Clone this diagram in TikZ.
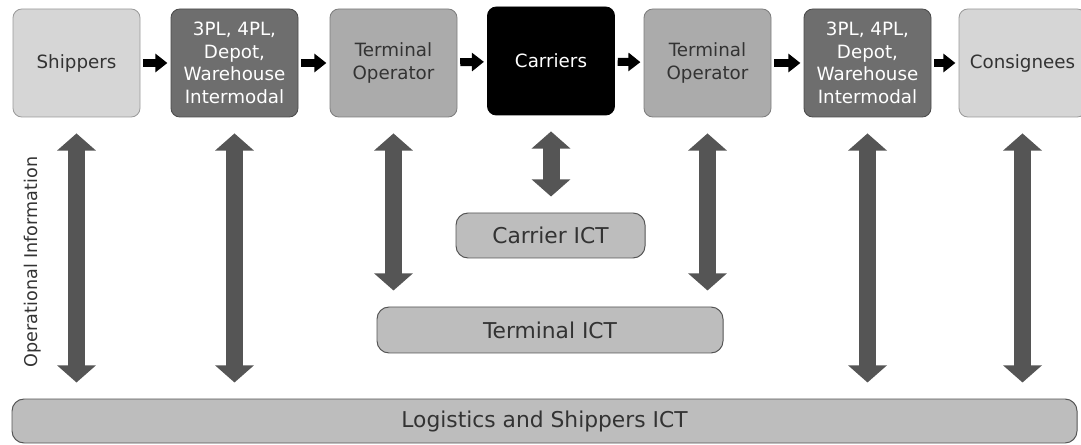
\documentclass[tikz,border=0pt]{standalone}
\usepackage{fontspec}
\setmainfont{DejaVu Sans}
\usetikzlibrary{arrows.meta}
\definecolor{boxlight}{HTML}{D6D6D6}
\definecolor{edgelight}{HTML}{9A9A9A}
\definecolor{boxdark}{HTML}{6E6E6E}
\definecolor{edgedark}{HTML}{4A4A4A}
\definecolor{boxmid}{HTML}{ABABAB}
\definecolor{edgemid}{HTML}{7D7D7D}
\definecolor{boxict}{HTML}{BDBDBD}
\definecolor{edgeict}{HTML}{555555}
\definecolor{arrgray}{HTML}{555555}
\definecolor{txtdark}{HTML}{333333}

\begin{document}
\begin{tikzpicture}[>={Triangle[width=0.45cm,length=0.3cm]}]
%===styles===
\tikzset{
 actor/.style={draw, rounded corners=0.22cm, minimum width=3.175cm, minimum height=2.7cm, align=center, inner sep=1pt, line width=0.6pt, font=\fontsize{13}{16}\selectfont},
 shipbox/.style={actor, fill=boxlight, draw=edgelight, text=txtdark},
 hubbox/.style={actor, fill=boxdark, draw=edgedark, text=white},
 termbox/.style={actor, fill=boxmid, draw=edgemid, text=txtdark},
 carrbox/.style={actor, fill=black, draw=black, text=white},
 ictbox/.style={draw=edgeict, fill=boxict, rounded corners=0.3cm, line width=0.7pt, text=txtdark, font=\fontsize{15.5}{18}\selectfont},
 flow/.style={->, line width=0.2cm, black, shorten <=0.07cm, shorten >=0.08cm},
 info/.style={{Triangle[width=0.95cm,length=0.43cm]}-{Triangle[width=0.95cm,length=0.43cm]}, line width=0.425cm, arrgray, shorten <=0.4cm, shorten >=0.4cm}
}
\useasboundingbox (0,0) rectangle (27.025,-11.125);
%===chain===
\node[shipbox] (ship) at (1.9125,-1.575) {Shippers};
\node[hubbox] (hub1) at (5.8625,-1.575) {3PL, 4PL,\\Depot,\\Warehouse\\Intermodal};
\node[termbox] (term1) at (9.8375,-1.575) {Terminal\\Operator};
\node[carrbox] (carr) at (13.775,-1.525) {Carriers};
\node[termbox] (term2) at (17.6875,-1.575) {Terminal\\Operator};
\node[hubbox] (hub2) at (21.6875,-1.575) {3PL, 4PL,\\Depot,\\Warehouse\\Intermodal};
\node[shipbox] (cons) at (25.5625,-1.575) {Consignees};
%===ICT layers===
\node[ictbox, minimum width=4.725cm, minimum height=1.125cm] (cict) at (13.7625,-5.8875) {Carrier ICT};
\node[ictbox, minimum width=8.65cm, minimum height=1.15cm] (tict) at (13.75,-8.25) {Terminal ICT};
\node[ictbox, minimum width=26.625cm, minimum height=1.1cm] (logi) at (13.6125,-10.525) {Logistics and Shippers ICT};
%===side label===
\node[rotate=90, text=txtdark, font=\fontsize{12.5}{15}\selectfont] (opinfo) at (0.825,-6.55) {Operational Information};
%===flow arrows===
\draw[flow] (ship) -- (hub1);
\draw[flow] (hub1) -- (term1);
\draw[flow] (term1) -- (carr);
\draw[flow] (carr) -- (term2);
\draw[flow] (term2) -- (hub2);
\draw[flow] (hub2) -- (cons);
%===information arrows===
\draw[info] (ship.south) -- (ship.south |- logi.north);
\draw[info] (hub1.south) -- (hub1.south |- logi.north);
\draw[info] (term1.south) -- (term1.south |- tict.north);
\draw[info] (carr.south) -- (carr.south |- cict.north);
\draw[info] (term2.south) -- (term2.south |- tict.north);
\draw[info] (hub2.south) -- (hub2.south |- logi.north);
\draw[info] (cons.south) -- (cons.south |- logi.north);
\end{tikzpicture}
\end{document}
